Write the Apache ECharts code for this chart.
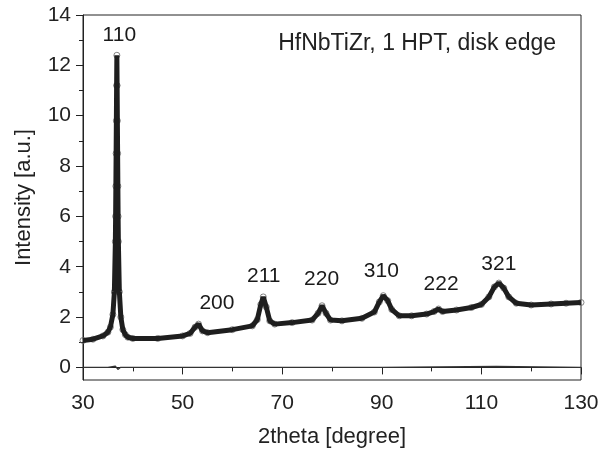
<!DOCTYPE html>
<html>
<head>
<meta charset="utf-8">
<script src="https://cdn.jsdelivr.net/npm/echarts@6/dist/echarts.min.js"></script>
<style>
  html, body { margin: 0; padding: 0; background: #fff; }
  #chart { width: 616px; height: 455px; }
</style>
</head>
<body>
<div id="chart"></div>
<script>
// XRD pattern
var twoTheta = [30, 32, 34, 35, 35.5, 36, 36.3, 36.5, 36.55, 36.6, 36.65, 36.7, 36.75, 36.8, 36.85, 36.9, 36.95,
  37.0, 37.05, 37.1, 37.3, 37.6, 38, 38.5, 39, 40,
  45, 50, 51.5, 52.5, 53.2, 54, 55, 60, 64, 65, 65.7, 66.2, 66.8, 67.5, 68.5, 72, 76, 77.2, 78, 78.8, 79.7,
  82, 86, 88.5, 89.5, 90.3, 91.2, 92, 93.5, 96, 99, 100.5, 101.4, 102.2, 105, 108, 110, 111.5, 112.6, 113.5,
  114.5, 115.5, 117, 120, 124, 127, 130];
var observed = [1.07, 1.12, 1.25, 1.4, 1.6, 2.1, 3.0, 5.0, 6.0, 7.2, 8.5, 9.8, 11.2, 12.4, 11.2, 9.8, 8.5,
  7.2, 6.0, 5.0, 3.0, 2.0, 1.5, 1.3, 1.2, 1.15,
  1.15, 1.25, 1.35, 1.6, 1.72, 1.45, 1.38, 1.5, 1.65, 1.9, 2.5, 2.8, 2.4, 1.85, 1.72, 1.78, 1.88, 2.15, 2.45, 2.15, 1.88,
  1.85, 1.95, 2.2, 2.6, 2.85, 2.65, 2.3, 2.05, 2.05, 2.12, 2.22, 2.32, 2.22, 2.28, 2.38, 2.5, 2.8, 3.2, 3.35,
  3.15, 2.8, 2.55, 2.48, 2.52, 2.55, 2.58];

var diffTheta = [30, 35, 36.5, 36.8, 37.0, 37.5, 60, 90, 113, 130];
var diffValues = [0, 0, 0.05, 0.12, -0.08, 0, 0, 0, 0.04, 0];

var peakNames = ['110', '200', '211', '220', '310', '222', '321'];
var peakTheta = [37.4, 57.0, 66.4, 78.0, 90.0, 102.0, 113.6];
var peakLabelY = [13.19, 2.52, 3.6, 3.47, 3.79, 3.29, 4.07];

var yLabels = [0, 2, 4, 6, 8, 10, 12, 14];
var yMinor = [1, 3, 5, 7, 9, 11, 13];
var xLabels = [30, 50, 70, 90, 110, 130];
var xMinor = [40, 60, 80, 100, 120];

var chartDom = document.getElementById('chart');
var myChart = echarts.init(chartDom);
var option;

var font = 'Liberation Sans, Arial, sans-serif';
var ink = '#222';

function pairs(xs, ys) {
  return xs.map(function (x, i) { return [x, ys[i]]; });
}

option = {
  animation: false,
  textStyle: { fontFamily: font },
  title: {
    text: 'HfNbTiZr, 1 HPT, disk edge',
    right: 55,
    top: 27,
    textStyle: { fontFamily: font, fontSize: 23, fontWeight: 'normal', color: ink }
  },
  grid: {
    left: 83, right: 35, top: 15, bottom: 75,
    show: true, borderColor: ink, borderWidth: 1
  },
  xAxis: [
    {
      type: 'value', min: 30, max: 130,
      name: '2theta [degree]', nameLocation: 'middle', nameGap: 46,
      nameTextStyle: { fontFamily: font, fontSize: 22, color: ink },
      axisLine: { lineStyle: { color: ink, width: 1 } },
      axisTick: { show: true, length: 7, customValues: xLabels, lineStyle: { color: ink } },
      axisLabel: { customValues: xLabels, fontFamily: font, fontSize: 21, color: ink, margin: 13 },
      splitLine: { show: false }
    },
    {
      type: 'value', min: 30, max: 130, position: 'bottom',
      axisLine: { show: false },
      axisTick: { show: true, length: 4, customValues: xMinor, lineStyle: { color: ink } },
      axisLabel: { show: false },
      splitLine: { show: false }
    }
  ],
  yAxis: [
    {
      type: 'value', min: -0.5, max: 14,
      name: 'Intensity [a.u.]', nameLocation: 'middle', nameGap: 48, nameRotate: 90,
      nameTextStyle: { fontFamily: font, fontSize: 22, color: ink },
      axisLine: { show: true, lineStyle: { color: ink, width: 1 } },
      axisTick: { show: true, length: 7, customValues: yLabels, lineStyle: { color: ink } },
      axisLabel: { customValues: yLabels, fontFamily: font, fontSize: 21, color: ink, margin: 12 },
      splitLine: { show: false }
    },
    {
      type: 'value', min: -0.5, max: 14, position: 'left',
      axisLine: { show: false },
      axisTick: { show: true, length: 4, customValues: yMinor, lineStyle: { color: ink } },
      axisLabel: { show: false },
      splitLine: { show: false }
    }
  ],
  series: [
    {
      name: 'Difference',
      type: 'line',
      data: pairs(diffTheta, diffValues),
      showSymbol: false,
      lineStyle: { color: '#333', width: 1.2 }
    },
    {
      name: 'Observed points',
      type: 'scatter',
      data: pairs(twoTheta, observed),
      symbol: 'circle',
      symbolSize: 6,
      z: 2,
      itemStyle: { color: 'rgba(0,0,0,0)', borderColor: '#666', borderWidth: 1 }
    },
    {
      name: 'Observed',
      type: 'line',
      data: pairs(twoTheta, observed),
      showSymbol: false,
      z: 3,
      lineStyle: { color: '#1e1e1e', width: 5 }
    },
    {
      name: 'Peaks',
      type: 'scatter',
      symbolSize: 1,
      z: 4,
      data: pairs(peakTheta, peakLabelY).map(function (p, i) {
        return { value: p, label: { formatter: peakNames[i] } };
      }),
      itemStyle: { color: 'rgba(0,0,0,0)', opacity: 1 },
      label: {
        show: true, position: [0, 0], align: 'center', verticalAlign: 'middle',
        fontFamily: font, fontSize: 21, color: '#1a1a1a', opacity: 1
      }
    }
  ]
};

option && myChart.setOption(option);
window.addEventListener('resize', function () { myChart.resize(); });
</script>
</body>
</html>
